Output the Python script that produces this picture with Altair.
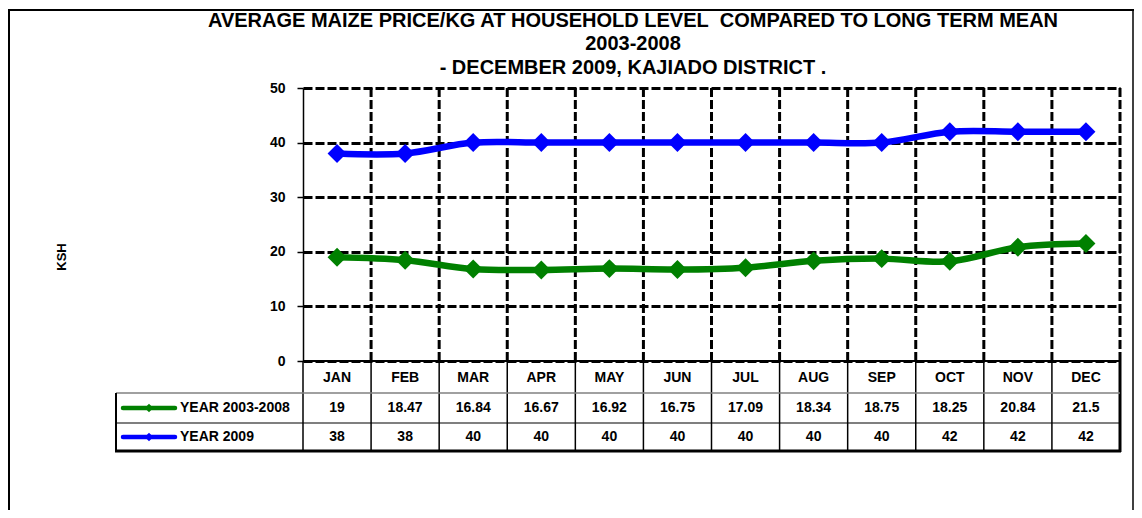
import altair as alt
import pandas as pd

months = ["JAN", "FEB", "MAR", "APR", "MAY", "JUN", "JUL", "AUG", "SEP", "OCT", "NOV", "DEC"]
series_names = ["YEAR 2003-2008", "YEAR 2009"]
long_term = [19, 18.47, 16.84, 16.67, 16.92, 16.75, 17.09, 18.34, 18.75, 18.25, 20.84, 21.5]
year_2009 = [38, 38, 40, 40, 40, 40, 40, 40, 40, 42, 42, 42]
series_colors = ["#008000", "#0000FF"]
y_ticks = [0, 10, 20, 30, 40, 50]
title_lines = [
    "AVERAGE MAIZE PRICE/KG AT HOUSEHOLD LEVEL\u00a0 COMPARED TO LONG TERM MEAN",
    "2003-2008",
    "- DECEMBER 2009, KAJIADO DISTRICT .",
]
y_title = "KSH"

W, H = 817, 273
PL, PT, PR, PB = 295, 80, 14, 149
FONT = "Liberation Sans"

rows = []
for name, vals in zip(series_names, [long_term, year_2009]):
    for m, v in zip(months, vals):
        rows.append({"series": name, "month": m, "value": v, "label": str(v)})
df = pd.DataFrame(rows)
mdf = pd.DataFrame({"month": months})
one = pd.DataFrame({"a": [0]})


def xenc(**kw):
    return alt.X(
        "month:N",
        sort=months,
        scale=alt.Scale(type="band", domain=months, paddingInner=0, paddingOuter=0),
        axis=None,
        **kw,
    )


yenc = alt.Y(
    "value:Q",
    scale=alt.Scale(domain=[0, 50], nice=False),
    axis=alt.Axis(
        values=y_ticks,
        title=None,
        labelFont=FONT,
        labelFontWeight="bold",
        labelFontSize=14,
        labelColor="black",
        labelPadding=12,
        tickSize=6,
        tickColor="black",
        tickWidth=1.5,
        domainColor="black",
        domainWidth=1.5,
        grid=True,
        gridColor="black",
        gridDash=[9, 3],
        gridWidth=3,
    ),
)

color = alt.Color(
    "series:N",
    scale=alt.Scale(domain=series_names, range=series_colors),
    legend=None,
)

layers = []

# vertical dashed gridlines (category boundaries + right edge)
layers.append(
    alt.Chart(mdf)
    .mark_rule(color="black", strokeWidth=3, strokeDash=[9, 3])
    .encode(x=xenc(bandPosition=1), y=alt.value(0), y2=alt.value(H))
)

# lines
layers.append(
    alt.Chart(df)
    .mark_line(interpolate="catmull-rom", strokeWidth=6.5)
    .encode(x=xenc(), y=yenc, color=color, detail="series:N")
)
layers.append(
    alt.Chart(df)
    .mark_point(shape="diamond", filled=True, size=360, opacity=1)
    .encode(x=xenc(), y=alt.Y("value:Q"), color=color)
)

# x baseline
layers.append(
    alt.Chart(one)
    .mark_rule(color="black", strokeWidth=2)
    .encode(x=alt.value(0), x2=alt.value(W), y=alt.value(H))
)

# table vertical lines
layers.append(
    alt.Chart(mdf)
    .mark_rule(color="black", strokeWidth=1.5)
    .encode(x=xenc(bandPosition=0), y=alt.value(H), y2=alt.value(H + 90))
)
layers.append(
    alt.Chart(one)
    .mark_rule(color="black", strokeWidth=3)
    .encode(x=alt.value(W), y=alt.value(H), y2=alt.value(H + 91))
)
# table horizontal lines
layers.append(
    alt.Chart(one)
    .mark_rule(color="#808080", strokeWidth=1.5)
    .encode(x=alt.value(-187), x2=alt.value(W), y=alt.value(H + 32))
)
layers.append(
    alt.Chart(one)
    .mark_rule(color="black", strokeWidth=1.2)
    .encode(x=alt.value(-187), x2=alt.value(W), y=alt.value(H + 62))
)
layers.append(
    alt.Chart(one)
    .mark_rule(color="black", strokeWidth=3)
    .encode(x=alt.value(-188), x2=alt.value(W + 1), y=alt.value(H + 90))
)
layers.append(
    alt.Chart(one)
    .mark_rule(color="black", strokeWidth=2)
    .encode(x=alt.value(-187), y=alt.value(H + 32), y2=alt.value(H + 90))
)

# month labels
layers.append(
    alt.Chart(mdf)
    .mark_text(font=FONT, fontWeight="bold", fontSize=14, color="black", baseline="middle")
    .encode(x=xenc(), y=alt.value(H + 17), text="month:N")
)

# value rows + legend entries
row_y = [H + 47, H + 76]
for name, col, ry in zip(series_names, series_colors, row_y):
    sub = df[df["series"] == name]
    layers.append(
        alt.Chart(sub)
        .mark_text(font=FONT, fontWeight="bold", fontSize=14, color="black", baseline="middle")
        .encode(x=xenc(), y=alt.value(ry), text="label:N")
    )
    leg = pd.DataFrame({"series": [name]})
    layers.append(
        alt.Chart(leg)
        .mark_rule(color=col, strokeWidth=4.5, strokeCap="round")
        .encode(x=alt.value(-180), x2=alt.value(-128), y=alt.value(ry))
    )
    layers.append(
        alt.Chart(leg)
        .mark_point(shape="diamond", filled=True, size=70, opacity=1, color=col)
        .encode(x=alt.value(-154), y=alt.value(ry))
    )
    layers.append(
        alt.Chart(leg)
        .mark_text(font=FONT, fontWeight="bold", fontSize=14, color="black", align="left", baseline="middle")
        .encode(x=alt.value(-123), y=alt.value(ry), text="series:N")
    )

# title lines
for i, (line, ty) in enumerate(zip(title_lines, [-67, -44, -20])):
    layers.append(
        alt.Chart(pd.DataFrame({"t": [line]}))
        .mark_text(font=FONT, fontWeight="bold", fontSize=20, color="black", baseline="middle")
        .encode(x=alt.value(330), y=alt.value(ty), text="t:N")
    )

# y title
layers.append(
    alt.Chart(pd.DataFrame({"t": [y_title]}))
    .mark_text(font=FONT, fontWeight="bold", fontSize=13, color="black", angle=270, baseline="middle")
    .encode(x=alt.value(-241), y=alt.value(169), text="t:N")
)

# outer frame
layers.append(
    alt.Chart(one)
    .mark_rule(color="black", strokeWidth=2)
    .encode(x=alt.value(-294), y=alt.value(-79), y2=alt.value(H + PB))
)
layers.append(
    alt.Chart(one)
    .mark_rule(color="black", strokeWidth=2)
    .encode(x=alt.value(-295), x2=alt.value(W + PR), y=alt.value(-78))
)
layers.append(
    alt.Chart(one)
    .mark_rule(color="black", strokeWidth=1.5)
    .encode(x=alt.value(W + PR - 1), y=alt.value(-79), y2=alt.value(H + PB))
)

chart = (
    alt.layer(*layers)
    .properties(
        width=W,
        height=H,
        padding={"left": PL, "top": PT, "right": PR, "bottom": PB},
        autosize=alt.AutoSizeParams(type="none"),
        background="white",
    )
    .configure_view(strokeWidth=0)
)

chart.save("out.html", embed_options={"renderer": "svg", "actions": False})
